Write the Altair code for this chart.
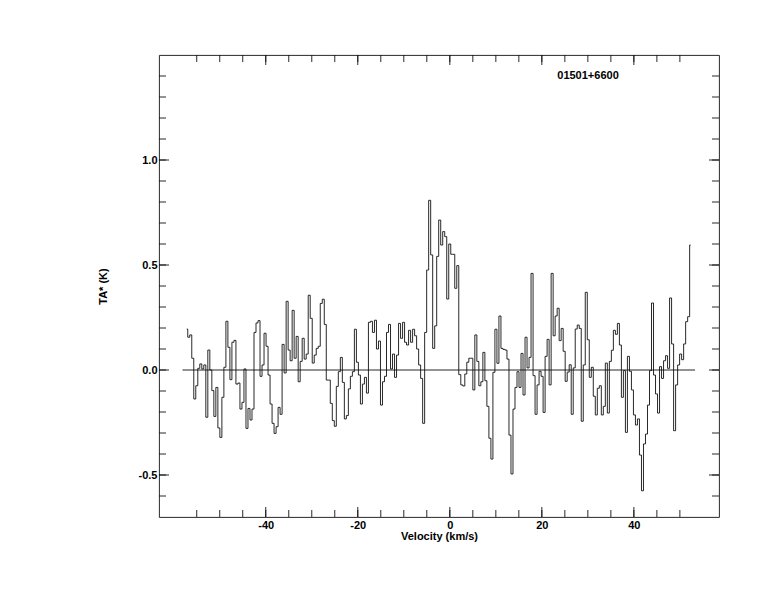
import altair as alt
import pandas as pd

# Antenna temperature per channel (K)
TA = [
    0.195, 0.156, 0.167, 0.056, -0.138, -0.075, 0.008, 0.029, 0.005, 0.024,
    -0.225, 0.095, 0.0, -0.098, -0.221, -0.083, -0.276, -0.321, -0.130, 0.013,
    0.232, 0.108, -0.046, 0.132, 0.141, -0.067, -0.062, -0.186, -0.154, 0.005,
    -0.278, -0.183, -0.238, -0.186, 0.179, 0.224, 0.235, -0.030, 0.024, 0.175,
    0.113, -0.024, -0.162, -0.254, -0.302, -0.270, -0.178, -0.211, 0.122, -0.014,
    0.327, 0.095, 0.044, 0.284, 0.056, 0.160, -0.056, 0.041, 0.151, 0.052,
    0.076, 0.356, 0.246, 0.033, 0.071, 0.103, 0.113, 0.317, 0.337, 0.217,
    -0.048, -0.048, -0.159, -0.241, -0.268, -0.078, -0.008, 0.060, -0.059, -0.233,
    -0.217, -0.090, -0.030, -0.008, 0.194, 0.037, -0.024, -0.162, -0.067, -0.035,
    -0.110, 0.227, 0.232, 0.179, 0.237, 0.100, 0.138, -0.167, -0.056, -0.030,
    0.179, 0.217, 0.005, 0.076, -0.035, 0.071, 0.222, 0.151, 0.227, 0.132,
    0.119, 0.189, 0.132, 0.194, 0.163, 0.100, 0.024, -0.040, -0.254, 0.179,
    0.476, 0.808, 0.548, 0.103, 0.210, 0.541, 0.714, 0.595, 0.659, 0.635,
    0.338, 0.600, 0.551, 0.551, 0.389, 0.497, -0.022, -0.071, -0.076, -0.019,
    0.037, 0.056, 0.056, -0.095, 0.167, 0.041, -0.075, -0.056, 0.084, -0.051,
    -0.173, -0.325, -0.424, -0.011, 0.194, 0.032, 0.257, 0.103, 0.098, 0.095,
    0.052, -0.310, -0.495, -0.186, -0.083, -0.008, -0.083, 0.079, -0.119, 0.156,
    0.010, 0.060, 0.460, -0.027, -0.211, -0.071, -0.006, -0.030, -0.202, 0.065,
    0.146, -0.071, 0.460, 0.163, 0.257, 0.294, 0.140, 0.198, 0.089, -0.054,
    -0.010, 0.025, -0.211, 0.010, 0.195, 0.214, 0.198, -0.244, 0.024, 0.370,
    0.144, -0.035, 0.013, -0.125, -0.214, -0.087, -0.075, -0.214, -0.173, 0.033,
    -0.205, 0.041, 0.094, 0.189, 0.170, 0.222, 0.119, -0.130, -0.003, -0.297,
    0.065, -0.006, -0.095, -0.214, -0.262, -0.233, -0.405, -0.575, -0.352, -0.305,
    -0.167, -0.003, 0.319, -0.024, -0.114, -0.205, 0.016, -0.040, 0.044, 0.068,
    0.008, 0.343, 0.124, -0.289, -0.071, 0.024, 0.076, 0.049, 0.124, 0.230,
    0.254, 0.595,
]

# Channel velocity grid (km/s)
V_START = -57.17
V_STEP = 0.4363
VEL = [round(V_START + i * V_STEP, 3) for i in range(len(TA))]

X_DOMAIN = [-63.2, 58.5]
Y_DOMAIN = [-0.7, 1.5]
X_LABELS = [-40, -20, 0, 20, 40]
Y_LABELS = [-0.5, 0.0, 0.5, 1.0]
X_MINOR = list(range(-55, 51, 5))
Y_MINOR = [round(-0.6 + 0.1 * i, 1) for i in range(21)]
ZERO_SPAN = [-58.1, 53.3]
SOURCE = "01501+6600"

W, H = 560, 462
FONT = "Liberation Sans"
INK = "#111111"

xs = alt.Scale(domain=X_DOMAIN, nice=False, zero=False)
ys = alt.Scale(domain=Y_DOMAIN, nice=False, zero=False)

xaxis = alt.Axis(
    values=X_LABELS, format="d", title="Velocity (km/s)",
    labelExpr="replace(datum.label, '\u2212', '-')",
    ticks=False, tickSize=0, domain=False, grid=False,
    labelPadding=2, titleY=19, titleBaseline="middle")
yaxis = alt.Axis(
    values=Y_LABELS, format=".1f", title="TA* (K)",
    labelExpr="replace(datum.label, '\u2212', '-')",
    ticks=False, tickSize=0, domain=False, grid=False,
    labelPadding=2, titleX=-56, titleY=231, titleAngle=270,
    titleAlign="center", titleBaseline="middle")


def X(field="v"):
    return alt.X(f"{field}:Q", scale=xs, axis=xaxis)


def Y(field="t"):
    return alt.Y(f"{field}:Q", scale=ys, axis=yaxis)


spec = pd.DataFrame({"v": VEL, "t": TA})

line = alt.Chart(spec).mark_line(
    interpolate="step", color=INK, strokeWidth=0.9
).encode(x=X(), y=Y())

zero = alt.Chart(pd.DataFrame({"v": [ZERO_SPAN[0]], "v2": [ZERO_SPAN[1]], "t": [0.0]})).mark_rule(
    color=INK, strokeWidth=0.9
).encode(x=X(), x2="v2:Q", y=Y())

xminor = pd.DataFrame({"v": X_MINOR})
xmajor = pd.DataFrame({"v": X_LABELS})
yminor = pd.DataFrame({"t": Y_MINOR})
ymajor = pd.DataFrame({"t": Y_LABELS})


def xticks(df, length):
    base = alt.Chart(df).mark_rule(color=INK, strokeWidth=0.9)
    bottom = base.encode(x=X(), y=alt.value(H), y2=alt.value(H - length))
    top = base.encode(x=X(), y=alt.value(0), y2=alt.value(length))
    return [bottom, top]


def yticks(df, length):
    base = alt.Chart(df).mark_rule(color=INK, strokeWidth=0.9)
    left = base.encode(y=Y(), x=alt.value(0), x2=alt.value(length))
    right = base.encode(y=Y(), x=alt.value(W), x2=alt.value(W - length))
    return [left, right]


label = alt.Chart(pd.DataFrame({"s": [SOURCE]})).mark_text(
    font=FONT, fontSize=11, fontWeight="bold", color="black",
    align="center", baseline="middle"
).encode(text="s:N", x=alt.value(429), y=alt.value(21))

layers = [line, zero] + xticks(xminor, 7) + xticks(xmajor, 10) \
    + yticks(yminor, 7) + yticks(ymajor, 10) + [label]

chart = alt.layer(*layers).properties(
    width=W, height=H,
    autosize="none",
    padding={"left": 151, "top": 47, "right": 47, "bottom": 40},
).configure_view(
    stroke=INK, strokeWidth=0.9
).configure_axis(
    labelFont=FONT, labelFontSize=11, labelFontWeight="bold", labelColor="black",
    titleFont=FONT, titleFontSize=11, titleFontWeight="bold", titleColor="black",
)

chart.save("out.html", embed_options={"renderer": "svg", "actions": False})
